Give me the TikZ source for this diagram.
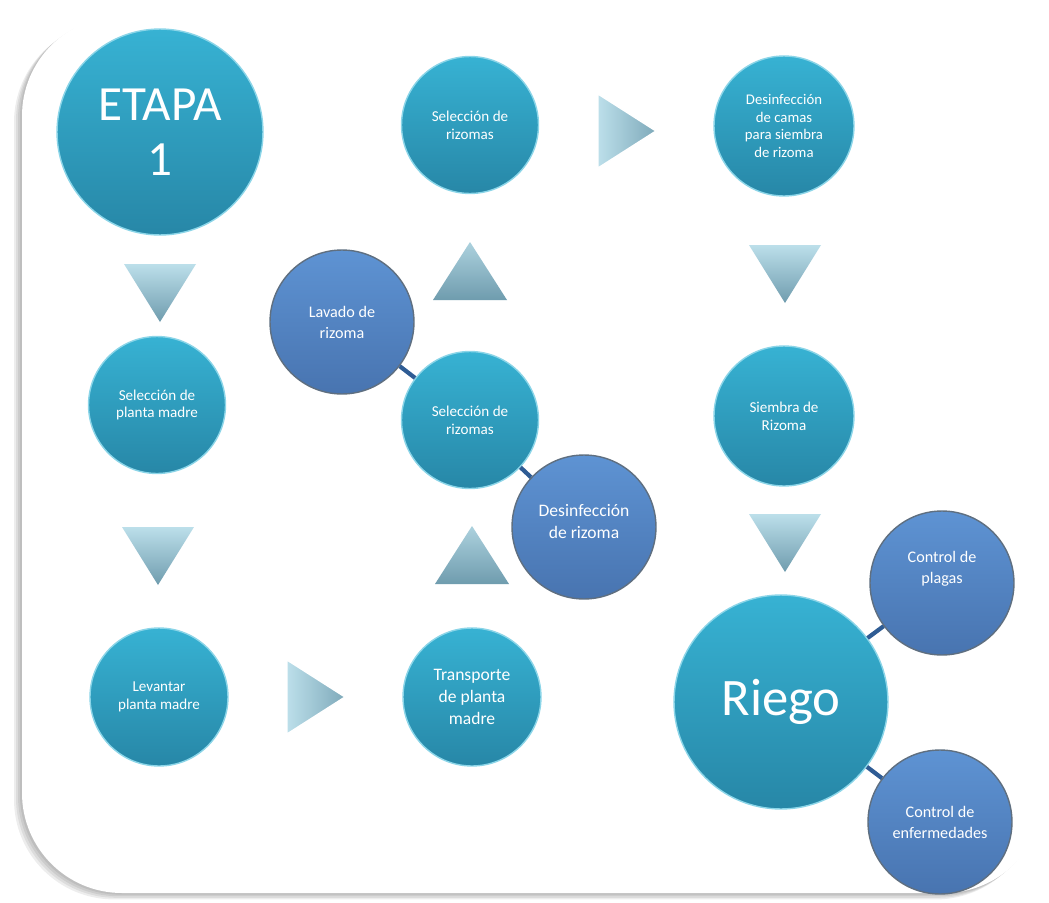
\documentclass[tikz,border=0pt]{standalone}
\usepackage{fontspec}
\setmainfont{Carlito}
\usetikzlibrary{calc}

\definecolor{stepTop}{HTML}{37B2D3}
\definecolor{stepBot}{HTML}{2787A7}
\definecolor{stepRim}{HTML}{8BD5E8}
\definecolor{subTop}{HTML}{5E93D3}
\definecolor{subBot}{HTML}{4874B0}
\definecolor{subRim}{HTML}{5F6F80}
\definecolor{linkBlue}{HTML}{2F5C94}
\definecolor{triLight}{HTML}{BCDFEA}
\definecolor{triDark}{HTML}{6F9CAE}

\tikzset{downtri/.pic={\shade[top color=triLight,bottom color=triDark] (-36,-29) -- (36,-29) -- (0,29) -- cycle;}}
\tikzset{uptri/.pic={\shade[top color=triLight!80!triDark,bottom color=triDark] (-37,29) -- (37,29) -- (0,-29) -- cycle;}}
\tikzset{righttri/.pic={\shade[left color=triLight,right color=triDark!80!triLight,draw=white,line width=0.8pt] (-29,-37) -- (-29,37) -- (29,0) -- cycle;}}

\begin{document}
\begin{tikzpicture}[x=0.02cm,y=-0.02cm,
    stepnode/.style={circle,top color=stepTop,bottom color=stepBot,
        draw=stepRim,line width=0.8pt,text=white,align=center,inner sep=0pt,
        minimum size=2.74cm,font={\fontsize{8.6}{10.2}\selectfont}},
    subnode/.style={stepnode,top color=subTop,bottom color=subBot,
        draw=subRim,minimum size=2.88cm,font={\fontsize{9.2}{12}\selectfont}},
    bignode/.style={stepnode,font={\fontsize{28}{31}\selectfont}},
    link/.style={draw=linkBlue,line width=2.4pt},
    ]

    \useasboundingbox (0,0) rectangle (1049,903);

    % Frame with shadow
    \foreach \s in {8,6,4,2}
        \fill[black,opacity=0.07,rounded corners=2cm] (22-\s,16+0.8*\s) rectangle (1044-\s,893+0.8*\s);
    \fill[white,rounded corners=2cm] (22,16) rectangle (1044,893);

    % Left column
    \node[bignode,minimum size=4.12cm] (etapa) at (160,132) {ETAPA\\1};
    \node[stepnode] (selpm) at (157,405) {Selección de\\planta madre};
    \node[stepnode,minimum size=2.76cm] (levpm) at (159,697) {Levantar\\planta madre};

    % Middle column
    \node[stepnode,minimum size=2.76cm,font={\fontsize{10}{12.5}\selectfont}] (transp) at (472,697) {Transporte\\de planta\\madre};
    \node[stepnode] (selmid) at (470,420) {Selección de\\rizomas};
    \node[subnode] (lavado) at (342,322) {Lavado de\\rizoma};
    \node[subnode,font={\fontsize{10}{12.5}\selectfont}] (desinf) at (584,527) {Desinfección\\de rizoma\\[-0.6em]};
    \node[stepnode] (selrz) at (470,125) {Selección de\\rizomas};

    % Right column
    \node[stepnode,minimum size=2.8cm,font={\fontsize{8.4}{10}\selectfont}] (descam) at (784,126) {Desinfección\\de camas\\para siembra\\de rizoma};
    \node[stepnode,minimum size=2.8cm] (siembra) at (784,416) {Siembra de\\Rizoma};
    \node[bignode,minimum size=4.28cm,font={\fontsize{30}{32}\selectfont}] (riego) at (781,702) {Riego};
    \node[subnode] (plagas) at (942,583) {Control de\\plagas\\[0.6em]};
    \node[subnode] (enferm) at (940,822) {Control de\\enfermedades};

    % Links
    \draw[link] (lavado) -- (selmid);
    \draw[link] (selmid) -- (desinf);
    \draw[link] (riego) -- (plagas);
    \draw[link] (riego) -- (enferm);

    % Arrows
    \pic at (160,293) {downtri};
    \pic at (158,556) {downtri};
    \pic at (785,274) {downtri};
    \pic at (785,543) {downtri};
    \pic at (470,271) {uptri};
    \pic at (472,555) {uptri};
    \pic at (316,697) {righttri};
    \pic at (627,131) {righttri};

\end{tikzpicture}
\end{document}
